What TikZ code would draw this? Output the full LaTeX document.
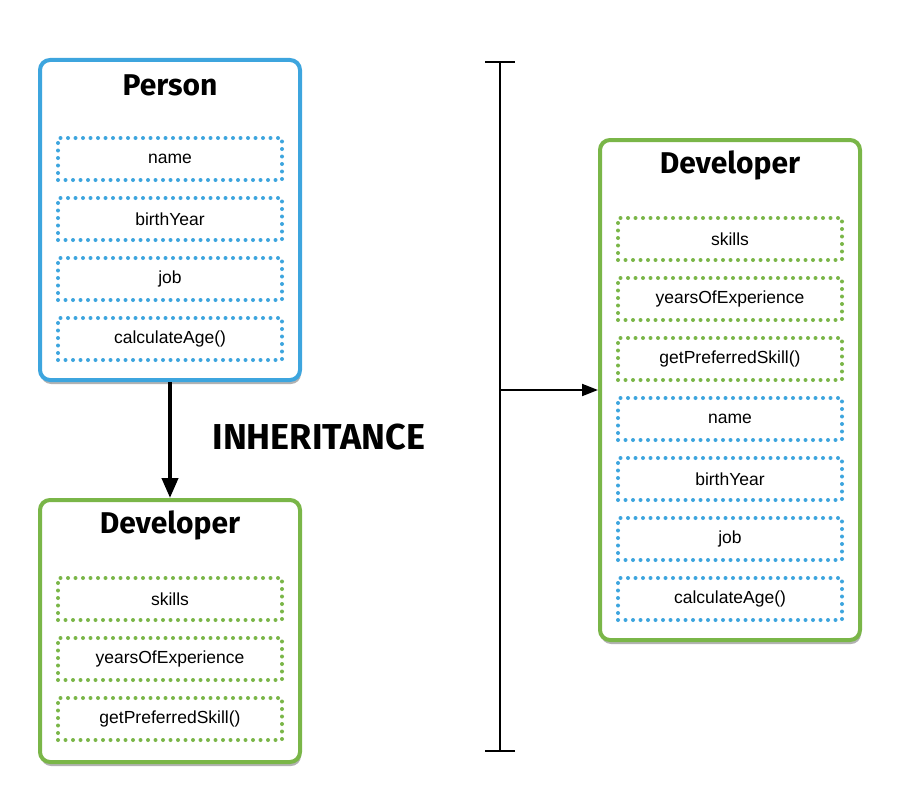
\documentclass[tikz,border=0pt]{standalone}
\usepackage{fontspec}
\setmainfont{Liberation Sans}
\newfontfamily\handfont{Fira Sans}
\usetikzlibrary{arrows.meta,shadows}
\definecolor{personblue}{HTML}{3DA5DE}
\definecolor{devgreen}{HTML}{7AB648}
\begin{document}
\begin{tikzpicture}[x=1pt,y=-1pt,
  classbox/.style={draw,line width=4pt,rounded corners=10pt,fill=white,minimum width=260pt,
    drop shadow={shadow xshift=1pt,shadow yshift=-4pt,fill=black,opacity=0.3}},
  field/.style={draw,line width=4pt,dash pattern=on 0pt off 7.5pt,line cap=round,
    minimum width=224pt,minimum height=42pt,font=\fontsize{17.5}{20}\selectfont},
  title/.style={font=\handfont\bfseries\fontsize{30}{34}\selectfont}]
\useasboundingbox (0,0) rectangle (900,800);
\node[classbox,draw=personblue,minimum height=320pt] (person) at (170,220) {};
\node[title] (personT) at (170,85) {Person};
\node[field,draw=personblue] (pname) at (170,159) {name};
\node[field,draw=personblue] (pbirth) at (170,219) {birthYear};
\node[field,draw=personblue] (pjob) at (170,279) {job};
\node[field,draw=personblue] (pcalc) at (170,339) {calculateAge()};
\node[classbox,draw=devgreen,minimum height=262pt] (dev) at (170,631) {};
\node[title] (devT) at (170,525) {Developer};
\node[field,draw=devgreen] (dskills) at (170,599) {skills};
\node[field,draw=devgreen] (dyears) at (170,659) {yearsOfExperience};
\node[field,draw=devgreen] (dpref) at (170,719) {getPreferredSkill()};
\draw[line width=4pt,-{Triangle[width=16pt,length=20pt]}] (person.south) -- (dev.north);
\node[title,anchor=west,font=\handfont\bfseries\fontsize{36}{40}\selectfont] (inh) at (209,437) {INHERITANCE};
\node[classbox,draw=devgreen,minimum height=500pt] (full) at (730,390) {};
\node[title] (fullT) at (730,165) {Developer};
\node[field,draw=devgreen] (fskills) at (730,239) {skills};
\node[field,draw=devgreen] (fyears) at (730,299) {yearsOfExperience};
\node[field,draw=devgreen] (fpref) at (730,359) {getPreferredSkill()};
\node[field,draw=personblue] (fname) at (730,419) {name};
\node[field,draw=personblue] (fbirth) at (730,479) {birthYear};
\node[field,draw=personblue] (fjob) at (730,539) {job};
\node[field,draw=personblue] (fcalc) at (730,599) {calculateAge()};
\coordinate (btop) at (500,61);
\coordinate (bbot) at (500,752);
\coordinate (bmid) at (500,390);
\draw[line width=2pt,{Bar[width=30pt]}-{Bar[width=30pt]}] (btop) -- (bbot);
\draw[line width=2pt,-{Triangle[width=12pt,length=16pt]}] (bmid) -- (full.west);
\end{tikzpicture}
\end{document}
